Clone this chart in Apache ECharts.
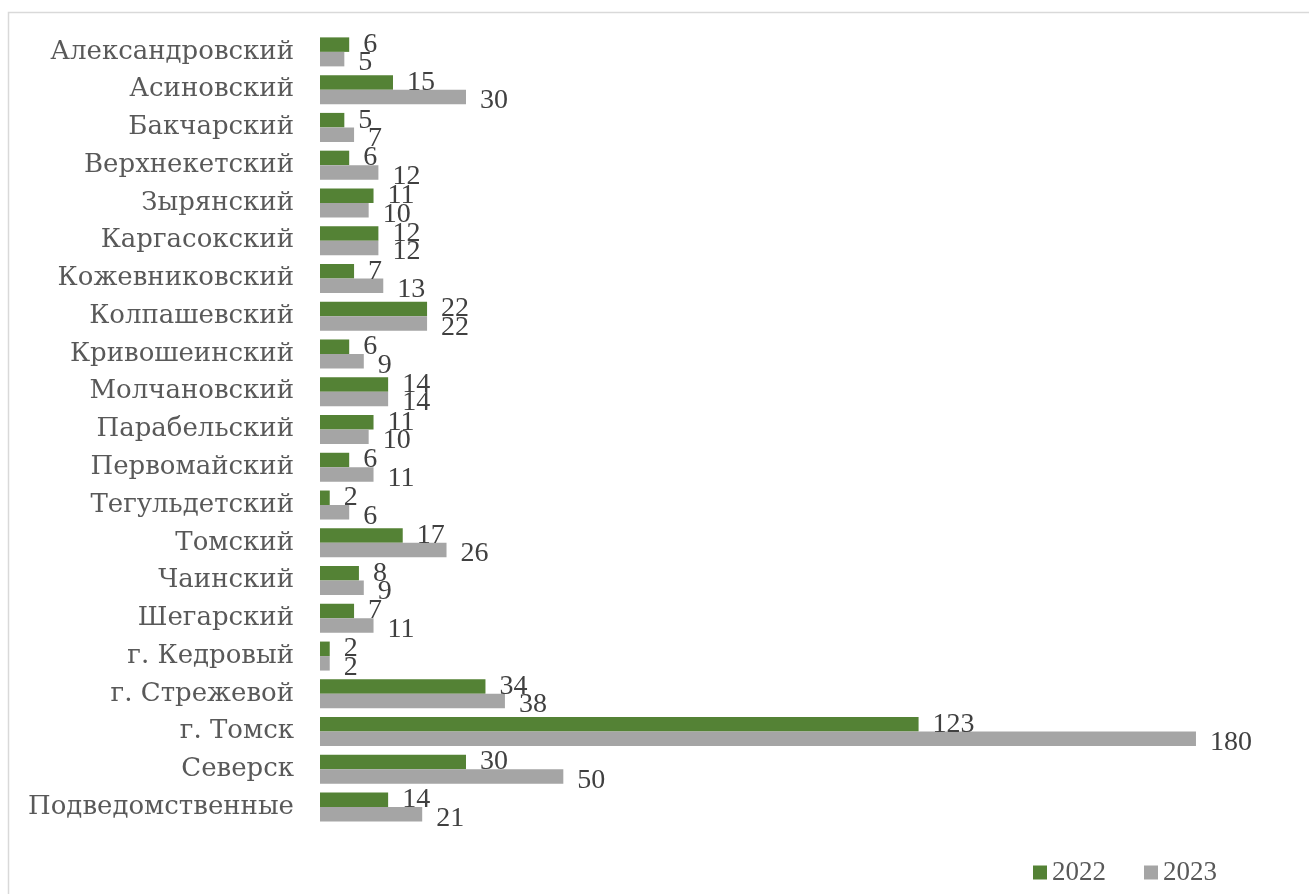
<!DOCTYPE html>
<html><head><meta charset="utf-8">
<script src="https://cdn.jsdelivr.net/npm/echarts@6/dist/echarts.min.js"></script>
<style>html,body{margin:0;padding:0;background:#fff}#c{width:1309px;height:894px}</style>
</head><body><div id="c"></div>
<script>
const categories = ["Александровский","Асиновский","Бакчарский","Верхнекетский","Зырянский","Каргасокский","Кожевниковский","Колпашевский","Кривошеинский","Молчановский","Парабельский","Первомайский","Тегульдетский","Томский","Чаинский","Шегарский","г. Кедровый","г. Стрежевой","г. Томск","Северск","Подведомственные"];
const values2022 = [6,15,5,6,11,12,7,22,6,14,11,6,2,17,8,7,2,34,123,30,14];
const values2023 = [5,30,7,12,10,12,13,22,9,14,10,11,6,26,9,11,2,38,180,50,21];
const seriesNames = ["2022","2023"];

const FONT = "DejaVu Serif";
const NUMFONT = "Liberation Serif";
const chart = echarts.init(document.getElementById('c'));
chart.setOption({
  animation:false,
  graphic:[{type:'rect',shape:{x:8.5,y:12.5,width:1400,height:1000},style:{fill:'none',stroke:'#d9d9d9',lineWidth:1.5},silent:true}],
  grid:{left:320,top:33,right:15.7,bottom:68},
  legend:{left:1033,top:859,padding:0,itemWidth:14,itemHeight:14,itemGap:38,icon:'rect',
    textStyle:{fontFamily:NUMFONT,fontSize:27,color:'#595959'},data:seriesNames},
  xAxis:{type:'value',min:0,max:200,show:false,splitLine:{show:false}},
  yAxis:{type:'category',inverse:true,data:categories,axisLine:{show:false},axisTick:{show:false},
    axisLabel:{fontFamily:FONT,fontSize:26,color:'#595959',margin:26}},
  series:[
    {name:seriesNames[0],type:'bar',data:values2022,barWidth:14.5,barGap:'0%',
     itemStyle:{color:'#548235'},
     label:{show:true,position:'right',distance:14,offset:[0,0],fontFamily:NUMFONT,fontSize:28,color:'#404040'}},
    {name:seriesNames[1],type:'bar',data:values2023,barWidth:14.5,barGap:'0%',
     itemStyle:{color:'#a5a5a5'},
     label:{show:true,position:'right',distance:14,offset:[0,4],fontFamily:NUMFONT,fontSize:28,color:'#404040'}}
  ]
});
</script></body></html>
